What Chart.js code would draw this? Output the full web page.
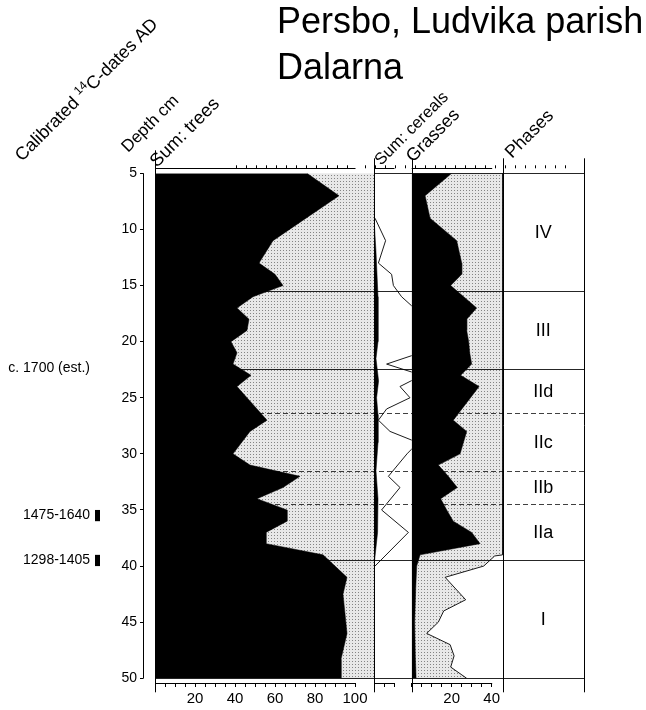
<!DOCTYPE html>
<html>
<head>
<meta charset="utf-8">
<script src="https://cdn.jsdelivr.net/npm/chart.js@4/dist/chart.umd.min.js"></script>
<style>
  html, body { margin: 0; padding: 0; background: #fff; }
  canvas { display: block; }
</style>
</head>
<body>
<canvas id="c" width="646" height="710"></canvas>
<script>
// Persbo, Ludvika parish - pollen diagram (depth in cm)

// Sum: trees (%)
var treeDepth = [5, 7, 11, 13, 14, 15, 16, 17, 18, 19, 20, 21, 22, 23, 24, 25, 26, 27, 28, 30, 31, 32, 33, 34, 35, 36, 37, 38, 39, 40, 41, 42.5, 46, 48.3, 50];
var trees = [76, 92, 59, 52, 60, 64, 49, 41, 47, 46, 38, 41, 39, 48, 41, 46, 51, 56, 47.5, 39, 47.5, 72.5, 64, 51, 66, 66, 55.5, 55.5, 84, 90, 96, 94, 96, 93, 93];

// Sum: cereals (%) and exaggerated curve
var cerealSumDepth = [9, 12, 16, 20, 21.5, 23.5, 25, 26.5, 29, 31.5, 34, 37, 40];
var cerealSum = [0, 1, 2, 2, 1, 2.3, 1.3, 2, 2, 1, 2, 1.8, 0];
var cerealExDepth = [9, 11, 13, 14, 15, 16, 17, 19, 21, 22, 23, 24, 25, 26, 27, 28, 29, 30, 32, 33, 35, 37, 40];
var cerealEx = [0.5, 5.8, 2.2, 8.8, 9.7, 13.8, 20, 24, 23, 6.3, 24, 13, 18, 6.3, 2.2, 8, 22, 16.5, 7.2, 13, 3.8, 17.2, 0.5];

// Grasses (%) and exaggerated curve (off scale above 39 cm, kept at panel edge)
var grassDepth = [5, 7, 9, 11, 13, 14, 15, 17, 18, 19, 20, 21, 22, 23, 24, 27, 28, 30, 31, 32, 33, 34, 35, 36, 37, 38, 39, 40, 42, 45, 48, 50];
var grasses = [20, 6.7, 9.2, 22.5, 25, 25, 19.5, 32.5, 27.5, 27.5, 28.5, 29, 30, 24.5, 33.7, 20.8, 27.5, 24.2, 13.3, 18.3, 22.8, 14.5, 17.5, 20.8, 30, 34.2, 4.2, 2.5, 2, 1.5, 1.8, 2.2];
var grassExDepth = [5, 39, 39.1, 40, 41, 43, 44, 45, 46, 47, 48, 49, 50];
var grassEx = [45.5, 45.5, 41.5, 36, 16.7, 27, 16, 13.3, 7.5, 19.2, 21.2, 19.5, 27.5];

// Phases
var phaseNames = ['IV', 'III', 'IId', 'IIc', 'IIb', 'IIa', 'I'];
var phaseBounds = [5, 15.5, 22.4, 26.4, 31.5, 34.5, 39.5, 50];
var phaseDashed = [false, false, false, true, true, true, false, false];

// Calibrated 14C dates
var dateText = ['c. 1700 (est.)', '1475-1640', '1298-1405'];
var dateDepth = [22.4, 35.5, 39.5];
var dateFrom = [null, 35, 39];
var dateTo = [null, 36, 40];

var FONT = '"Liberation Sans", Arial, Helvetica, sans-serif';
Chart.defaults.font.family = FONT;
Chart.defaults.color = '#000';

function pts(depth, vals) {
    return depth.map(function (d, i) {
        return {x: vals[i], y: d};
    });
}

var canvas = document.getElementById('c');
var ctx = canvas.getContext('2d');

// fine stipple used for the shaded areas
var tile = document.createElement('canvas');
tile.width = 3;
tile.height = 3;
var tctx = tile.getContext('2d');
tctx.fillStyle = '#e8e8e8';
tctx.fillRect(0, 0, 3, 3);
tctx.fillStyle = '#848484';
tctx.fillRect(1, 1, 1, 1);
var dots = ctx.createPattern(tile, 'repeat');

function panelAxis(pos, max, weight, lastTick, labels) {
    var bottom = pos === 'bottom';
    return {
        type: 'linear',
        axis: 'x',
        position: pos,
        stack: 'panels',
        stackWeight: weight,
        min: 0,
        max: max,
        afterBuildTicks: function (s) {
            s.ticks = s.ticks.filter(function (t) {
                return t.value >= 0 && t.value <= lastTick;
            });
        },
        afterFit: function (s) {
            s.height = bottom ? 30 : 8;
        },
        border: {display: false},
        grid: {
            display: lastTick > 0,
            drawOnChartArea: false,
            tickLength: bottom ? 10 : 8,
            tickBorderDash: bottom ? [0, 5, 4, 30] : [3, 30],
            tickColor: '#000',
            tickWidth: 1
        },
        ticks: {
            display: bottom && labels,
            stepSize: 5,
            autoSkip: false,
            maxRotation: 0,
            padding: 2,
            font: {size: 15},
            callback: function (v) {
                return (v > 0 && v % 20 === 0) ? v : '';
            }
        }
    };
}

var decor = {
    id: 'decor',
    beforeDatasetsDraw: function (chart) {
        var c = chart.ctx, a = chart.chartArea, t = chart.scales.trees;
        c.save();
        c.fillStyle = dots;
        c.fillRect(t.left, a.top, t.right - t.left, a.bottom - a.top);
        c.restore();
    },
    afterDatasetsDraw: function (chart) {
        var c = chart.ctx, a = chart.chartArea, s = chart.scales, y = s.y;
        c.save();
        c.lineWidth = 1;

        // phase boundaries across all panels
        c.strokeStyle = '#000';
        for (var i = 0; i < phaseBounds.length; i++) {
            var py = Math.round(y.getPixelForValue(phaseBounds[i])) + 0.5;
            c.setLineDash(phaseDashed[i] ? [5, 3] : []);
            c.globalAlpha = phaseDashed[i] ? 0.75 : 0.85;
            c.beginPath();
            c.moveTo(i === 0 ? s.cereals.left : a.left, py);
            c.lineTo(a.right, py);
            c.stroke();
        }
        c.globalAlpha = 1;
        c.setLineDash([]);

        // panel frames
        [s.trees.left, s.cereals.left, s.grasses.left, s.phases.left, s.phases.right].forEach(function (x, k) {
            var px = Math.round(x) + 0.5;
            c.beginPath();
            c.moveTo(px, k === 0 ? a.top - 23 : a.top - 15);
            c.lineTo(px, a.bottom + 14);
            c.stroke();
        });

        // axis base lines above and below each panel
        [['trees', 100], ['cereals', 10], ['grasses', 40]].forEach(function (p) {
            var sc = s[p[0]];
            var x0 = sc.getPixelForValue(0), x1 = sc.getPixelForValue(p[1]);
            [a.top - 5, a.bottom + 5].forEach(function (yy) {
                c.beginPath();
                c.moveTo(x0, Math.round(yy) + 0.5);
                c.lineTo(x1 + 0.5, Math.round(yy) + 0.5);
                c.stroke();
            });
        });

        // depth axis line
        var ax = Math.round(a.left - 12) + 0.5;
        c.beginPath();
        c.moveTo(ax, a.top);
        c.lineTo(ax, a.bottom);
        c.stroke();

        // phase names
        c.fillStyle = '#000';
        c.font = '18px ' + FONT;
        c.textAlign = 'center';
        c.textBaseline = 'middle';
        var cx = (s.phases.left + s.phases.right) / 2;
        for (var j = 0; j < phaseNames.length; j++) {
            var mid = (phaseBounds[j] + phaseBounds[j + 1]) / 2;
            c.fillText(phaseNames[j], cx, y.getPixelForValue(mid) + 1);
        }

        // dated levels
        c.font = '14px ' + FONT;
        c.textAlign = 'right';
        for (var k = 0; k < dateText.length; k++) {
            c.fillText(dateText[k], 90, y.getPixelForValue(dateDepth[k]));
            if (dateFrom[k] !== null) {
                var y0 = y.getPixelForValue(dateFrom[k]), y1 = y.getPixelForValue(dateTo[k]);
                c.fillRect(95, y0, 5, y1 - y0);
            }
        }
        c.restore();
    },
    afterDraw: function (chart) {
        var c = chart.ctx;
        c.save();
        c.fillStyle = '#000';
        c.textBaseline = 'alphabetic';
        c.textAlign = 'left';

        c.font = '36px ' + FONT;
        c.fillText('Persbo, Ludvika parish', 277, 33);
        c.fillText('Dalarna', 277, 79);

        function rot(x, y, parts) {
            c.save();
            c.translate(x, y);
            c.rotate(-Math.PI / 4);
            var off = 0;
            parts.forEach(function (p) {
                c.font = p[1] + 'px ' + FONT;
                c.fillText(p[0], off, p[2] || 0);
                off += c.measureText(p[0]).width;
            });
            c.restore();
        }
        rot(22, 162, [['Calibrated ', 18], ['14', 12, -7], ['C-dates AD', 18]]);
        rot(128, 153, [['Depth cm', 17]]);
        rot(157, 168, [['Sum: trees', 18.5]]);
        rot(381, 166, [['Sum: cereals', 16.5]]);
        rot(413, 163, [['Grasses', 18]]);
        rot(512, 159, [['Phases', 18]]);
        c.restore();
    }
};

var chart = new Chart(ctx, {
    type: 'line',
    data: {
        datasets: [
            {
                label: 'Sum: trees',
                data: pts(treeDepth, trees),
                xAxisID: 'trees',
                fill: 'origin',
                backgroundColor: '#000',
                borderColor: '#000',
                borderWidth: 0.5,
                order: 0
            },
            {
                label: 'Sum: cereals',
                data: pts(cerealSumDepth, cerealSum),
                xAxisID: 'cereals',
                fill: 'origin',
                backgroundColor: '#000',
                borderColor: '#000',
                borderWidth: 0.5,
                order: 0
            },
            {
                label: 'Grasses',
                data: pts(grassDepth, grasses),
                xAxisID: 'grasses',
                fill: 'origin',
                backgroundColor: '#000',
                borderColor: '#000',
                borderWidth: 0.5,
                order: 0
            },
            {
                label: 'Sum: cereals (exaggerated)',
                data: pts(cerealExDepth, cerealEx),
                xAxisID: 'cereals',
                fill: false,
                borderColor: '#000',
                borderWidth: 0.9,
                order: 1
            },
            {
                label: 'Grasses (exaggerated)',
                data: pts(grassExDepth, grassEx),
                xAxisID: 'grasses',
                fill: 'origin',
                backgroundColor: dots,
                borderColor: '#000',
                borderWidth: 0.9,
                order: 2
            }
        ]
    },
    options: {
        indexAxis: 'y',
        responsive: false,
        animation: false,
        devicePixelRatio: 1,
        layout: {padding: {left: 0, right: 62, top: 165.3, bottom: 1.7}},
        elements: {
            point: {radius: 0},
            line: {tension: 0}
        },
        plugins: {
            legend: {display: false},
            tooltip: {enabled: false},
            filler: {propagate: false}
        },
        scales: {
            y: {
                type: 'linear',
                position: 'left',
                reverse: true,
                min: 5,
                max: 50,
                afterFit: function (s) {
                    s.width = 155;
                },
                border: {display: false},
                grid: {
                    drawOnChartArea: false,
                    tickLength: 15,
                    tickBorderDash: [3.5, 30],
                    tickColor: '#000'
                },
                ticks: {stepSize: 5, padding: 3, font: {size: 14}}
            },
            trees: panelAxis('bottom', 109.5, 219, 100, true),
            cereals: panelAxis('bottom', 18.85, 37.7, 10, false),
            grasses: panelAxis('bottom', 45.5, 91, 40, true),
            phases: panelAxis('bottom', 1, 81.3, -1, false),
            treesTop: panelAxis('top', 109.5, 219, 100, false),
            cerealsTop: panelAxis('top', 18.85, 37.7, 10, false),
            grassesTop: panelAxis('top', 45.5, 91, 40, false),
            phasesTop: panelAxis('top', 1, 81.3, -1, false)
        }
    },
    plugins: [decor]
});
</script>
</body>
</html>
